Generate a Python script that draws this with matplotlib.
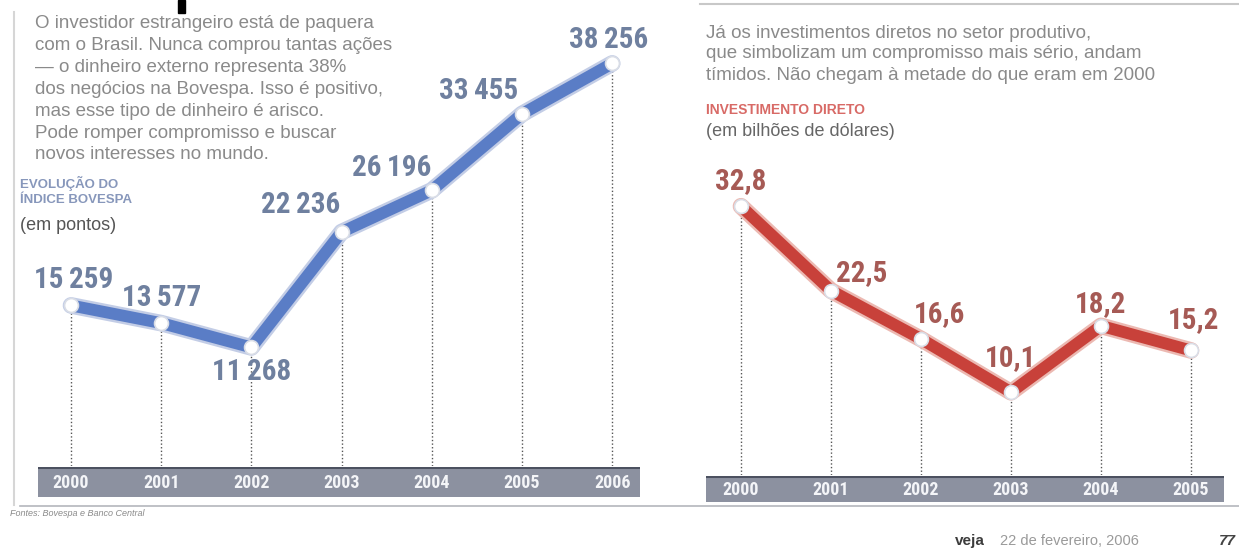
import matplotlib
matplotlib.use("Agg")
import matplotlib.pyplot as plt
from matplotlib.patches import Rectangle
from matplotlib.transforms import blended_transform_factory

# Bovespa index, points
anos_bovespa = ["2000", "2001", "2002", "2003", "2004", "2005", "2006"]
pontos_bovespa = [15259, 13577, 11268, 22236, 26196, 33455, 38256]

# direct investment, billions of dollars
anos_invest = ["2000", "2001", "2002", "2003", "2004", "2005"]
invest_direto = [32.8, 22.5, 16.6, 10.1, 18.2, 15.2]

texto_esq = [
    "O investidor estrangeiro está de paquera",
    "com o Brasil. Nunca comprou tantas ações",
    "— o dinheiro externo representa 38%",
    "dos negócios na Bovespa. Isso é positivo,",
    "mas esse tipo de dinheiro é arisco.",
    "Pode romper compromisso e buscar",
    "novos interesses no mundo.",
]
texto_dir = [
    "Já os investimentos diretos no setor produtivo,",
    "que simbolizam um compromisso mais sério, andam",
    "tímidos. Não chegam à metade do que eram em 2000",
]

W, H = 1239, 550
NARROW = ["Roboto Condensed", "DejaVu Sans"]
SANS = ["Liberation Sans", "DejaVu Sans"]


def box(x0, y0, x1, y1):
    # pixel box (origin top-left) -> figure fraction rect
    return [x0 / W, 1 - y1 / H, (x1 - x0) / W, (y1 - y0) / H]


def ftext(x, y, s, **kw):
    fig.text(x / W, 1 - y / H, s, **kw)


def painel(rect, xlim, ytop, valores, cor, halo, cor_rot, rotulos, offsets):
    ax = fig.add_axes(rect)
    ax.set_xlim(*xlim)
    ax.set_ylim(0, ytop)
    ax.axis("off")
    xs = list(range(len(valores)))
    ax.vlines(xs, 0, valores, colors="#555555", linestyles=(0, (1, 1.6)), lw=1.0, zorder=1)
    ax.plot(xs, valores, color=halo, lw=12, solid_capstyle="round", solid_joinstyle="round", zorder=2)
    ax.plot(xs, valores, color=cor, lw=8.5, solid_capstyle="round", solid_joinstyle="round", zorder=3)
    ax.plot(xs, valores, "o", ms=10, mfc="white", mec="#d9dde6", mew=1.2, zorder=4)
    for x, v, r, (dx, dy) in zip(xs, valores, rotulos, offsets):
        ax.annotate(r, (x, v), xytext=(dx, dy), textcoords="offset pixels",
                    ha="center", va="center", fontsize=21, fontweight="bold",
                    fontstretch="condensed", family=NARROW, color=cor_rot, zorder=5)
    return ax


def faixa(rect, xlim, anos):
    ax = fig.add_axes(rect)
    ax.set_xlim(*xlim)
    ax.set_ylim(0, 1)
    ax.set_facecolor("#8c91a0")
    for s in ax.spines.values():
        s.set_visible(False)
    ax.set_xticks([])
    ax.set_yticks([])
    ax.axhline(1, color="#4c5160", lw=2.2)
    tr = blended_transform_factory(ax.transData, ax.transAxes)
    for i, a in enumerate(anos):
        ax.text(i, 0.45, a, transform=tr, ha="center", va="center",
                fontsize=13, fontweight="bold", fontstretch="condensed",
                family=NARROW, color="#f4f5f8")
    return ax


fig = plt.figure(figsize=(W / 100, H / 100), dpi=100)
fig.patch.set_facecolor("white")

# left: Bovespa
rot_bov = [f"{v:,}".replace(",", "\u2009") for v in pontos_bovespa]
off_bov = [(3, 25), (0, 25), (0, -25), (-41, 27), (-40, 22), (-43, 23), (-4, 23)]
painel(box(38, 10, 640, 466), (-0.366, 6.308), (466 - 10) / 0.010523,
       pontos_bovespa, "#5a7dc6", "#c3cde6", "#6f809f", rot_bov, off_bov)
faixa(box(38, 467, 640, 497), (-0.366, 6.308), anos_bovespa)

# right: direct investment
rot_inv = [f"{v:.1f}".replace(".", ",") for v in invest_direto]
off_inv = [(0, 25), (31, 18), (19, 25), (0, 34), (0, 22), (3, 30)]
painel(box(706, 10, 1224, 475), (-0.389, 5.367), (475 - 10) / 8.194,
       invest_direto, "#c8413a", "#ecb9b2", "#a65a55", rot_inv, off_inv)
faixa(box(706, 476, 1224, 502), (-0.389, 5.367), anos_invest)

# paragraphs and titles
for i, linha in enumerate(texto_esq):
    ftext(35, 23 + 22 * i, linha, fontsize=13.5, family=SANS, color="#8a8a8a", va="center")
for i, linha in enumerate(texto_dir):
    ftext(706, 33 + 21 * i, linha, fontsize=13.5, family=SANS, color="#8a8a8a", va="center")

ftext(20, 183, "EVOLUÇÃO DO", fontsize=9.5, fontweight="bold", family=SANS, color="#8797bb", va="center")
ftext(20, 200, "ÍNDICE BOVESPA", fontsize=9.5, fontweight="bold", family=SANS, color="#8797bb", va="center")
ftext(20, 226, "(em pontos)", fontsize=13, family=SANS, color="#555555", va="center")

ftext(706, 110, "INVESTIMENTO DIRETO", fontsize=10, fontweight="bold", family=SANS, color="#d86a66", va="center")
ftext(706, 131, "(em bilhões de dólares)", fontsize=13, family=SANS, color="#666666", va="center")

# frame lines, heading fragment and footer
fig.add_artist(plt.Line2D([14 / W, 14 / W], [1 - 12 / H, 1 - 505 / H], color="#d6d6d6", lw=1.5))
fig.add_artist(plt.Line2D([20 / W, 1], [1 - 506 / H, 1 - 506 / H], color="#b4b6bc", lw=1.2))
fig.add_artist(plt.Line2D([700 / W, 1], [1 - 4 / H, 1 - 4 / H], color="#c8c8c8", lw=1.5))
fig.add_artist(Rectangle((178 / W, 1 - 13 / H), 7 / W, 13 / H, transform=fig.transFigure,
                         color="black"))

ftext(10, 514, "Fontes: Bovespa e Banco Central", fontsize=6.5, style="italic", family=SANS, color="#8a8a8a", va="center")
ftext(955, 541, "veja", fontsize=11, fontweight="bold", family=SANS, color="#3c3c3c", va="center")
ftext(1000, 541, "22 de fevereiro, 2006", fontsize=10.5, family=SANS, color="#9a9a9a", va="center")
ftext(1236, 541, "77", fontsize=11, fontweight="bold", style="italic", family=SANS, color="#444444",
      va="center", ha="right")

fig.savefig("out.png", dpi=100)
